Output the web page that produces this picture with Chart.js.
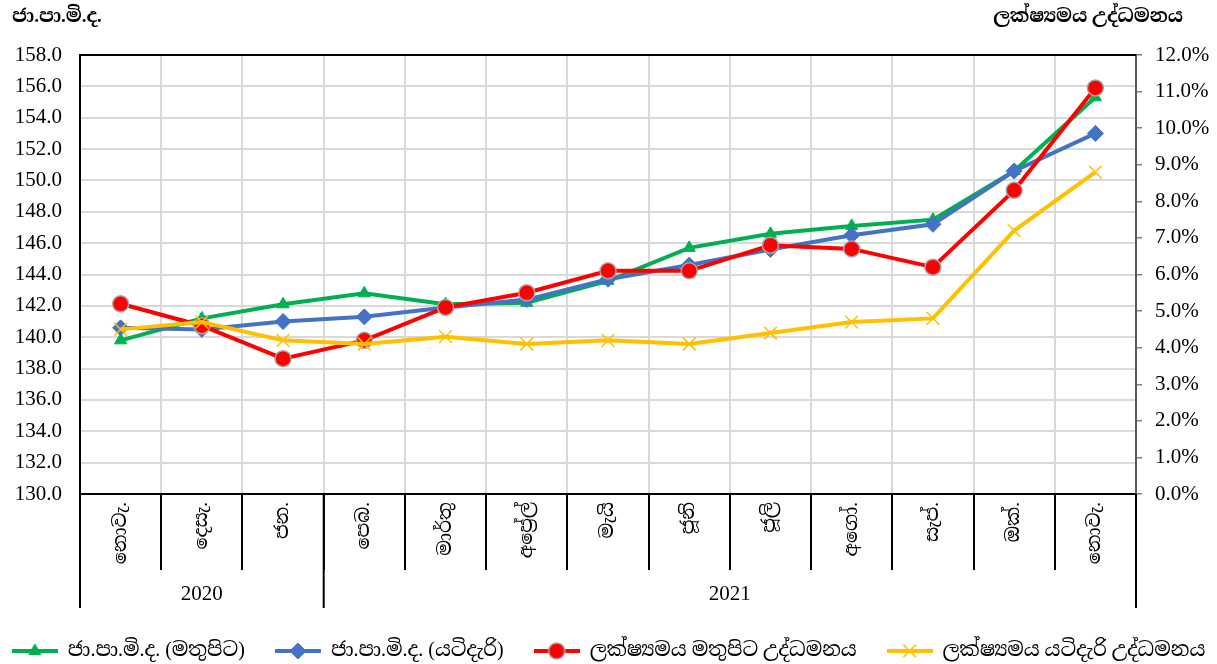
<!DOCTYPE html>
<html>
<head>
<meta charset="utf-8">
<script src="https://cdn.jsdelivr.net/npm/chart.js@4.4.0/dist/chart.umd.min.js"></script>
<style>
  html, body { margin: 0; padding: 0; background: #fff; }
</style>
</head>
<body>
<canvas id="myChart" width="1217" height="664"></canvas>
<script>
// months along the bottom, grouped by year
const months = ['නොවැ.', 'දෙසැ.', 'ජන.', 'පෙබ.', 'මාර්තු', 'අප්\u200Dරේල්', 'මැයි', 'ජූනි', 'ජූලි', 'අගෝ.', 'සැප්.', 'ඔක්.', 'නොවැ.'];
const years = ['2020', '2021'];
const yearStart = [0, 3];

// ජා.පා.මි.ද. index values (left axis)
const ccpiHeadline = [139.8, 141.2, 142.1, 142.8, 142.1, 142.2, 143.6, 145.7, 146.6, 147.1, 147.5, 150.6, 155.3];
const ccpiCore = [140.6, 140.5, 141.0, 141.3, 141.9, 142.4, 143.7, 144.6, 145.6, 146.5, 147.2, 150.6, 153.0];

// point to point inflation, % (right axis)
const inflHeadline = [5.2, 4.6, 3.7, 4.2, 5.1, 5.5, 6.1, 6.1, 6.8, 6.7, 6.2, 8.3, 11.1];
const inflCore = [4.5, 4.7, 4.2, 4.1, 4.3, 4.1, 4.2, 4.1, 4.4, 4.7, 4.8, 7.2, 8.8];

const seriesNames = ['ජා.පා.මි.ද. (මතුපිට)', 'ජා.පා.මි.ද. (යටිදැරි)', 'ලක්ෂ්\u200Dයමය මතුපිට උද්ධමනය', 'ලක්ෂ්\u200Dයමය යටිදැරි උද්ධමනය'];
const leftTitle = 'ජා.පා.මි.ද.';
const rightTitle = 'ලක්ෂ්\u200Dයමය උද්ධමනය';

const serif = '"Liberation Serif", "Times New Roman", "Iskoola Pota", "Noto Serif Sinhala", "Noto Sans Sinhala", serif';
Chart.defaults.font.family = serif;
Chart.defaults.color = '#000';

function legendIcon(ds) {
    const c = document.createElement('canvas');
    c.width = 46;
    c.height = 20;
    const g = c.getContext('2d');
    g.strokeStyle = ds.borderColor;
    g.lineWidth = 4;
    g.beginPath();
    g.moveTo(0, 10);
    g.lineTo(46, 10);
    g.stroke();
    g.fillStyle = ds.pointBackgroundColor;
    g.strokeStyle = ds.pointBorderColor;
    g.lineWidth = ds.pointBorderWidth;
    Chart.helpers.drawPoint(g, {
        pointStyle: ds.pointStyle,
        radius: ds.pointRadius,
        borderWidth: ds.pointBorderWidth,
        rotation: 0
    }, 23, 10);
    return c;
}

// year row under the month labels, top border and the two axis captions
const extras = {
    id: 'extras',
    afterDraw(chart) {
        const { ctx, chartArea } = chart;
        const x = chart.scales.x;
        const half = (x.getPixelForValue(1) - x.getPixelForValue(0)) / 2;
        const edges = yearStart.map(i => x.getPixelForValue(i) - half);
        edges.push(x.getPixelForValue(months.length - 1) + half);

        ctx.save();
        ctx.strokeStyle = '#000';
        ctx.lineWidth = 2;
        edges.forEach(px => {
            ctx.beginPath();
            ctx.moveTo(px, chartArea.bottom);
            ctx.lineTo(px, chartArea.bottom + 114);
            ctx.stroke();
        });
        ctx.beginPath();
        ctx.moveTo(chartArea.left, chartArea.top);
        ctx.lineTo(chartArea.right, chartArea.top);
        ctx.stroke();

        ctx.fillStyle = '#000';
        ctx.textBaseline = 'middle';
        ctx.textAlign = 'center';
        ctx.font = '21px ' + serif;
        years.forEach((yr, i) => {
            ctx.fillText(yr, (edges[i] + edges[i + 1]) / 2, chartArea.bottom + 100);
        });

        ctx.font = 'bold 19px ' + serif;
        ctx.textAlign = 'left';
        ctx.fillText(leftTitle, 12, 17);
        ctx.textAlign = 'right';
        ctx.fillText(rightTitle, 1183, 17);
        ctx.restore();
    }
};

const datasets = [
    {
        label: seriesNames[0],
        data: ccpiHeadline,
        yAxisID: 'y',
        borderColor: '#00b050',
        backgroundColor: '#00b050',
        pointStyle: 'triangle',
        pointRadius: 7,
        pointBackgroundColor: '#00b050',
        pointBorderColor: '#00b050',
        pointBorderWidth: 1,
        order: 4
    },
    {
        label: seriesNames[1],
        data: ccpiCore,
        yAxisID: 'y',
        borderColor: '#4472c4',
        backgroundColor: '#4472c4',
        pointStyle: 'rectRot',
        pointRadius: 8,
        pointBackgroundColor: '#4472c4',
        pointBorderColor: '#4472c4',
        pointBorderWidth: 1,
        order: 3
    },
    {
        label: seriesNames[2],
        data: inflHeadline,
        yAxisID: 'y2',
        borderColor: '#ff0000',
        backgroundColor: '#ff0000',
        pointStyle: 'circle',
        pointRadius: 8,
        pointBackgroundColor: '#ff0000',
        pointBorderColor: '#a6a6a6',
        pointBorderWidth: 1.5,
        order: 2
    },
    {
        label: seriesNames[3],
        data: inflCore,
        yAxisID: 'y2',
        borderColor: '#ffc000',
        backgroundColor: '#ffc000',
        pointStyle: 'crossRot',
        pointRadius: 9,
        pointBackgroundColor: '#ffc000',
        pointBorderColor: '#ffc000',
        pointBorderWidth: 1.5,
        order: 1
    }
];
datasets.forEach(ds => { ds.borderWidth = 4; ds.tension = 0; });

const ctx = document.getElementById('myChart');
const myChart = new Chart(ctx, {
    type: 'line',
    data: { labels: months, datasets: datasets },
    plugins: [extras],
    options: {
        responsive: false,
        animation: false,
        // negative side padding gives the one-row legend enough room
        layout: { padding: { top: 55, bottom: -7, left: -40, right: -40 } },
        scales: {
            x: {
                offset: true,
                grid: { offset: true, color: '#d9d9d9', lineWidth: 2, tickColor: '#000', tickLength: 76 },
                border: { color: '#000', width: 2 },
                ticks: { minRotation: 90, maxRotation: 90, autoSkip: false, padding: -68, font: { size: 19 } },
                afterFit: s => { s.height = 117; }
            },
            y: {
                position: 'left',
                min: 130,
                max: 158,
                grid: { color: '#d9d9d9', lineWidth: 2, drawTicks: false },
                border: { color: '#000', width: 2 },
                ticks: { stepSize: 2, padding: 18, font: { size: 21 }, callback: v => v.toFixed(1) },
                afterFit: s => { s.width = 120; }
            },
            y2: {
                position: 'right',
                min: 0,
                max: 12,
                grid: { drawOnChartArea: false, tickColor: '#7f7f7f', tickLength: 6, lineWidth: 1.5 },
                border: { color: '#595959', width: 2 },
                ticks: { stepSize: 1, padding: 13, font: { size: 21 }, callback: v => v.toFixed(1) + '%' },
                afterFit: s => { s.width = 121; }
            }
        },
        plugins: {
            tooltip: { enabled: false },
            legend: {
                position: 'bottom',
                labels: {
                    usePointStyle: true,
                    pointStyleWidth: 46,
                    boxHeight: 20,
                    padding: 30,
                    font: { size: 20 },
                    generateLabels: chart => chart.data.datasets.map((ds, i) => ({
                        text: ds.label,
                        pointStyle: legendIcon(ds),
                        fillStyle: ds.borderColor,
                        strokeStyle: ds.borderColor,
                        lineWidth: 0,
                        hidden: false,
                        datasetIndex: i
                    }))
                }
            }
        }
    }
});
</script>
</body>
</html>
